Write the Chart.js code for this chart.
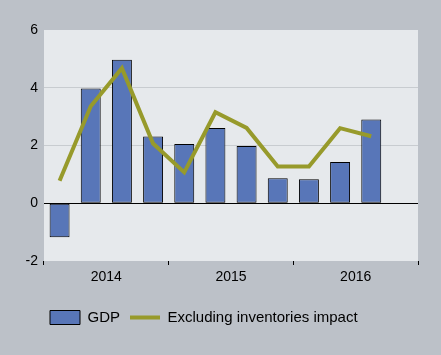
<!DOCTYPE html>
<html>
<head>
<meta charset="utf-8">
<script src="https://cdn.jsdelivr.net/npm/chart.js@4"></script>
<style>
  html, body { margin: 0; padding: 0; background: #bcc1c8; }
  #wrap { width: 441px; height: 355px; }
</style>
</head>
<body>
<div id="wrap"><canvas id="c" width="441" height="355"></canvas></div>
<script>
// Quarterly categories (2014Q1 .. 2016Q4); last quarter has no data
const quarters = ['2014Q1','2014Q2','2014Q3','2014Q4','2015Q1','2015Q2','2015Q3','2015Q4','2016Q1','2016Q2','2016Q3','2016Q4'];
const years = ['2014', '2015', '2016'];
const gdp = [-1.18, 3.97, 4.97, 2.31, 2.05, 2.61, 1.98, 0.87, 0.83, 1.43, 2.90];
const exInventories = [0.78, 3.36, 4.68, 2.07, 1.07, 3.15, 2.61, 1.27, 1.27, 2.60, 2.32];
const yTicks = [-2, 0, 2, 4, 6];

const FONT = "'Liberation Sans', Arial, sans-serif";
const BLUE = '#5876b8';
const OLIVE = '#979a2b';

const bgPlugin = {
  id: 'bg',
  afterLayout(chart) {
    // shift legend so its first item lines up under the plot like the reference
    if (chart.legend) {
      chart.legend.left += 40;
      chart.legend.right += 40;
    }
  },
  beforeDraw(chart) {
    const { ctx, chartArea: a } = chart;
    ctx.save();
    ctx.fillStyle = '#bcc1c8';
    ctx.fillRect(0, 0, chart.width, chart.height);
    ctx.fillStyle = '#e6e9ec';
    ctx.fillRect(a.left, a.top, a.right - a.left, a.bottom - a.top);
    ctx.restore();
  }
};

new Chart(document.getElementById('c'), {
  type: 'bar',
  data: {
    labels: quarters,
    datasets: [
      {
        type: 'bar',
        label: 'GDP',
        data: gdp,
        backgroundColor: BLUE,
        borderColor: '#000',
        borderWidth: 1,
        borderSkipped: false,
        barPercentage: 0.64,
        categoryPercentage: 1,
        pointStyle: 'rect',
        order: 2,
        xAxisID: 'x',
        yAxisID: 'y'
      },
      {
        type: 'line',
        label: 'Excluding inventories impact',
        data: exInventories,
        borderColor: OLIVE,
        backgroundColor: OLIVE,
        borderWidth: 4,
        pointRadius: 0,
        pointStyle: 'line',
        tension: 0,
        borderJoinStyle: 'miter',
        order: 1,
        xAxisID: 'x',
        yAxisID: 'y'
      }
    ]
  },
  options: {
    responsive: false,
    animation: false,
    devicePixelRatio: 1,
    layout: { padding: { left: 0, right: 23, top: 30, bottom: 20 } },
    scales: {
      x: {
        type: 'category',
        display: false,
        offset: true
      },
      x2: {
        type: 'category',
        labels: years,
        position: 'bottom',
        offset: true,
        grid: {
          offset: true,
          drawOnChartArea: false,
          drawTicks: true,
          tickLength: 4,
          color: '#000'
        },
        border: { display: false },
        ticks: {
          color: '#000',
          font: { family: FONT, size: 14 },
          padding: 4,
          maxRotation: 0
        },
        afterFit(scale) { scale.height = 39; }
      },
      y: {
        type: 'linear',
        min: -2,
        max: 6,
        afterBuildTicks(scale) { scale.ticks = yTicks.map(v => ({ value: v })); },
        grid: {
          drawTicks: false,
          color(ctx) {
            const v = ctx.tick && ctx.tick.value;
            if (v === 0) return '#000';
            if (v === -2 || v === 6) return 'rgba(0,0,0,0)';
            return '#c8ccd0';
          },
          lineWidth: 1
        },
        border: { display: false },
        ticks: {
          color: '#000',
          font: { family: FONT, size: 14 },
          padding: 6
        },
        afterFit(scale) { scale.width = 44; }
      }
    },
    plugins: {
      legend: {
        position: 'bottom',
        align: 'start',
        labels: {
          usePointStyle: true,
          pointStyleWidth: 30,
          boxHeight: 14,
          color: '#000',
          font: { family: FONT, size: 15 },
          padding: 10,
          sort: (a, b) => a.datasetIndex - b.datasetIndex
        }
      },
      tooltip: { enabled: false }
    }
  },
  plugins: [bgPlugin]
});
</script>
</body>
</html>
